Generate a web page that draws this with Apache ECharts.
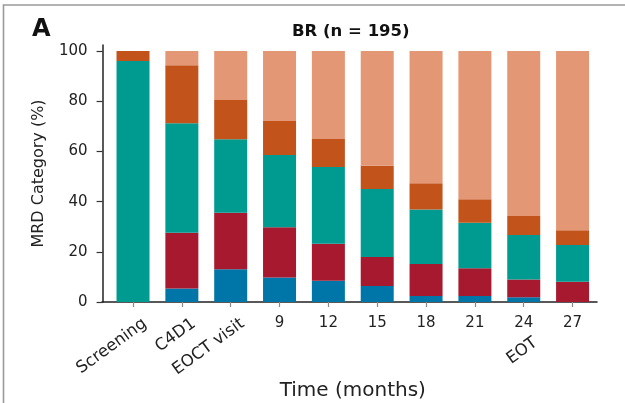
<!DOCTYPE html>
<html>
<head>
<meta charset="utf-8">
<script src="https://cdn.jsdelivr.net/npm/echarts@6/dist/echarts.min.js"></script>
<style>
  html, body { margin: 0; padding: 0; background: #fff; }
  #chart { width: 625px; height: 403px; }
</style>
</head>
<body>
<div id="chart"></div>
<script>
// Visit time points (one bar per visit)
const timePoints = ['Screening', 'C4D1', 'EOCT visit', '9', '12', '15', '18', '21', '24', '27'];

// Tick labels: upright month numbers, slanted visit names, and the EOT marker under month 24
const monthLabels = ['', '', '', '9', '12', '15', '18', '21', '24', '27'];
const visitLabels = ['Screening', 'C4D1', 'EOCT visit', '', '', '', '', '', '', ''];
const eotLabels = ['', '', '', '', '', '', '', '', 'EOT', ''];

// Share of patients (%) in each MRD category, stacked bottom to top
const mrdCat1 = [0, 5.4, 13.0, 9.8, 8.5, 6.4, 2.4, 2.4, 1.9, 0];
const mrdCat2 = [0, 22.2, 22.6, 20.0, 14.7, 11.5, 12.7, 11.0, 7.1, 8.1];
const mrdCat3 = [96.0, 43.6, 29.2, 28.8, 30.6, 27.1, 21.8, 18.2, 17.7, 14.6];
const mrdCat4 = [4.0, 23.1, 15.7, 13.5, 11.1, 9.3, 10.4, 9.3, 7.6, 5.9];
const mrdCat5 = [0, 5.7, 19.5, 27.9, 35.1, 45.7, 52.7, 59.1, 65.7, 71.4];

// Y-axis ticks
const yTicks = [0, 20, 40, 60, 80, 100];

const seriesDefs = [
  { name: 'MRD category 1', data: mrdCat1, color: '#0075A7' },
  { name: 'MRD category 2', data: mrdCat2, color: '#A6192E' },
  { name: 'MRD category 3', data: mrdCat3, color: '#009B90' },
  { name: 'MRD category 4', data: mrdCat4, color: '#C1531B' },
  { name: 'MRD category 5', data: mrdCat5, color: '#E39775' }
];

const FONT = 'DejaVu Sans';
const INK = '#222';

const chart = echarts.init(document.getElementById('chart'), null, { renderer: 'canvas' });

const plotTop = 45;
const plotBottom = 101;
const plotLeft = 108.6;
const plotRight = 28;
const slantShift = 12;

const slantLabel = (margin, labels) => ({
  interval: 0, rotate: 36, margin: margin,
  fontFamily: FONT, fontSize: 16.5, color: INK,
  formatter: (v, i) => labels[i]
});

const gridBox = (left, right) => ({
  left: left, right: right, top: plotTop, bottom: plotBottom,
  outerBoundsMode: 'none', containLabel: false
});

chart.setOption({
  animation: false,
  backgroundColor: '#fff',
  title: [
    {
      text: 'A', left: 27, top: 13,
      textStyle: { fontFamily: FONT, fontWeight: 'bold', fontSize: 24, color: '#111' }
    },
    {
      text: 'BR (n = 195)', left: 287, top: 18,
      textStyle: { fontFamily: FONT, fontWeight: 'bold', fontSize: 16.5, color: '#111' }
    }
  ],
  graphic: [
    {
      type: 'rect', silent: true, z: -10,
      shape: { x: 3.5, y: 5, width: 900, height: 700 },
      style: { fill: 'none', stroke: '#9a9a9a', lineWidth: 1.6 }
    }
  ],
  grid: [
    // bars
    gridBox(plotLeft, plotRight),
    // slanted visit labels
    gridBox(plotLeft + slantShift, plotRight - slantShift),
    // baseline running from the y axis
    gridBox(102, plotRight)
  ],
  xAxis: [
    {
      type: 'category', gridIndex: 0, position: 'bottom', data: timePoints,
      axisLine: { show: false },
      axisTick: { show: true, alignWithLabel: true, length: 5, lineStyle: { color: '#8a8a8a', width: 1.2 } },
      axisLabel: {
        interval: 0, margin: 14,
        fontFamily: FONT, fontSize: 15, color: INK,
        formatter: (v, i) => monthLabels[i]
      },
      name: 'Time (months)', nameLocation: 'middle', nameGap: 79,
      nameTextStyle: { fontFamily: FONT, fontSize: 20, color: INK }
    },
    {
      type: 'category', gridIndex: 1, position: 'bottom', data: timePoints,
      axisLine: { show: false }, axisTick: { show: false },
      axisLabel: slantLabel(20, visitLabels)
    },
    {
      type: 'category', gridIndex: 1, position: 'bottom', data: timePoints,
      axisLine: { show: false }, axisTick: { show: false },
      axisLabel: slantLabel(39, eotLabels)
    },
    {
      type: 'value', gridIndex: 2, position: 'bottom', min: 0, max: 1,
      axisLine: { show: true, lineStyle: { color: '#222', width: 1.5 } },
      axisTick: { show: false }, axisLabel: { show: false }, splitLine: { show: false }
    }
  ],
  yAxis: [
    {
      type: 'value', gridIndex: 0, min: 0, max: 102.4, offset: 6,
      axisLine: { show: true, lineStyle: { color: '#222', width: 1.5 } },
      axisTick: { show: true, length: 6, customValues: yTicks, lineStyle: { color: '#333', width: 1.2 } },
      axisLabel: {
        customValues: yTicks, margin: 15,
        fontFamily: FONT, fontSize: 15, color: INK
      },
      splitLine: { show: false },
      name: 'MRD Category (%)', nameLocation: 'middle', nameGap: 56,
      nameTextStyle: { fontFamily: FONT, fontSize: 16, color: INK }
    },
    { type: 'value', gridIndex: 1, show: false, min: 0, max: 102.4 },
    { type: 'value', gridIndex: 2, show: false, min: 0, max: 102.4 }
  ],
  series: seriesDefs.map(s => ({
    name: s.name,
    type: 'bar',
    stack: 'mrd',
    xAxisIndex: 0,
    yAxisIndex: 0,
    barWidth: 33,
    data: s.data,
    itemStyle: { color: s.color },
    emphasis: { disabled: true }
  }))
});
</script>
</body>
</html>
